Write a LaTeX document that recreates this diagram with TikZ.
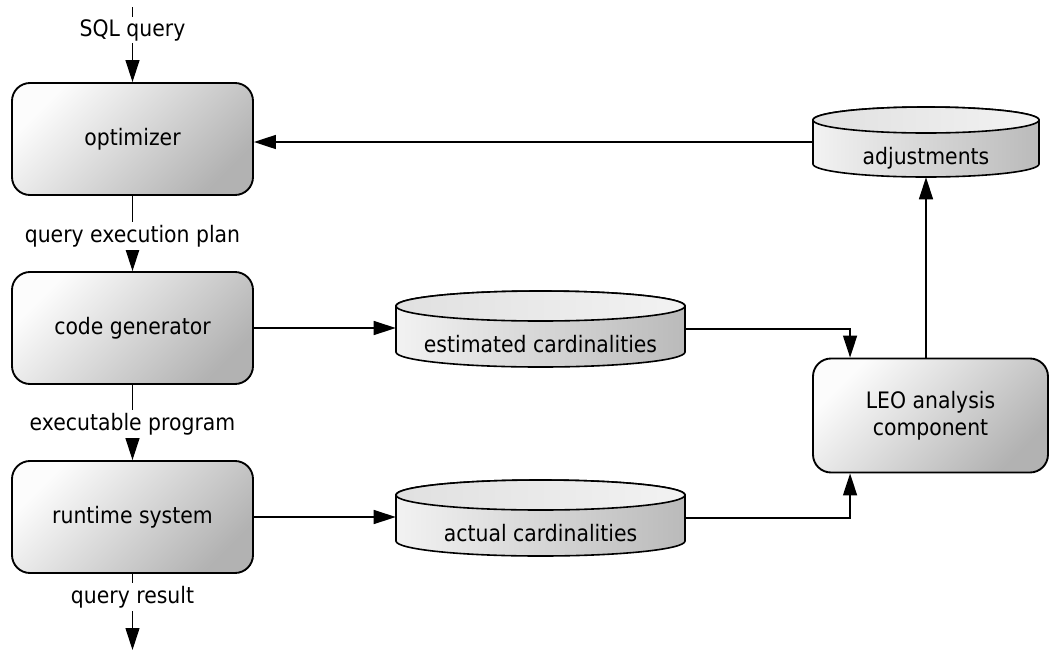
\documentclass[tikz,border=0pt]{standalone}
\usepackage{fontspec}
\setmainfont{DejaVu Sans}[FakeStretch=0.9]
\usetikzlibrary{arrows.meta}
\begin{document}
\begin{tikzpicture}[x=0.75pt,y=0.75pt,
  font=\fontsize{17pt}{20.5pt}\selectfont,
  box/.style={draw, line width=1.4pt, rounded corners=13.5pt,
    minimum width=180.75pt, minimum height=84pt, align=center,
    top color=black!1, middle color=black!8, bottom color=black!30, shading angle=45},
  cylbody/.style={draw, line width=1.2pt, left color=black!5, right color=black!27},
  cyltop/.style={draw, line width=1.2pt, left color=black!12, right color=black!5},
  cylnode/.style={inner sep=0pt, minimum width=216.75pt},
  txt/.style={inner sep=0pt},
  lbl/.style={fill=white, inner sep=2pt},
  conn/.style={line width=1.1pt},
  arr/.style={conn, -{Triangle[length=16.5pt,width=10.5pt]}},
  thin/.style={line width=0.8pt}
]
\useasboundingbox (0,0) rectangle (1051,-651);

% cylinders
\path[cylbody] (396,-306) -- (396,-352) arc[start angle=180,end angle=360,x radius=144.5,y radius=15] -- (685,-306) arc[start angle=0,end angle=180,x radius=144.5,y radius=15] -- cycle;
\path[cyltop] (540.5,-306) ellipse[x radius=144.5,y radius=15];
\node[cylnode, minimum height=57pt] (ec) at (540.5,-329) {};
\node[txt] (ect) at (540.5,-344) {estimated cardinalities};

\path[cylbody] (396,-495) -- (396,-541) arc[start angle=180,end angle=360,x radius=144.5,y radius=15] -- (685,-495) arc[start angle=0,end angle=180,x radius=144.5,y radius=15] -- cycle;
\path[cyltop] (540.5,-495) ellipse[x radius=144.5,y radius=15];
\node[cylnode, minimum height=57pt] (ac) at (540.5,-518) {};
\node[txt] (act) at (540.5,-533) {actual cardinalities};

\path[cylbody] (813,-120) -- (813,-164) arc[start angle=180,end angle=360,x radius=113,y radius=13] -- (1039,-120) arc[start angle=0,end angle=180,x radius=113,y radius=13] -- cycle;
\path[cyltop] (926,-120) ellipse[x radius=113,y radius=13];
\node[cylnode, minimum width=169.5pt, minimum height=52.5pt] (adj) at (926,-142) {};
\node[txt] (adjt) at (926,-158) {adjustments};

% boxes
\node[box] (opt) at (132.5,-139) {optimizer};
\node[box] (cg) at (132.5,-328) {code generator};
\node[box] (rt) at (132.5,-517) {runtime system};
\node[box, minimum width=176.25pt, minimum height=85.5pt] (leo) at (930.5,-415.5) {LEO analysis\\component};

% connectors
\coordinate (sqltop) at (132.5,-7);
\coordinate (qend) at (132.5,-650);
\draw[arr, thin] (sqltop) -- (opt.north);
\draw[arr, thin] (opt.south) -- (cg.north);
\draw[arr, thin] (cg.south) -- (rt.north);
\draw[arr, thin] (rt.south) -- (qend);
\node[lbl] (l1) at (132.5,-30) {SQL query};
\node[lbl] (l2) at (132.5,-236) {query execution plan};
\node[lbl] (l3) at (132.5,-424) {executable program};
\node[lbl] (l4) at (132.5,-597) {query result};

\draw[arr] (adj.west) -- (adj.west -| opt.east);
\draw[arr] (cg.east) -- (cg.east -| ec.west);
\draw[arr] (rt.east) -- (rt.east -| ac.west);
\draw[arr] (ec.east) -| ([xshift=28.5pt]leo.north west);
\draw[arr] (ac.east) -| ([xshift=28.5pt]leo.south west);
\draw[arr] (leo.north -| adj.south) -- (adj.south);
\end{tikzpicture}
\end{document}
